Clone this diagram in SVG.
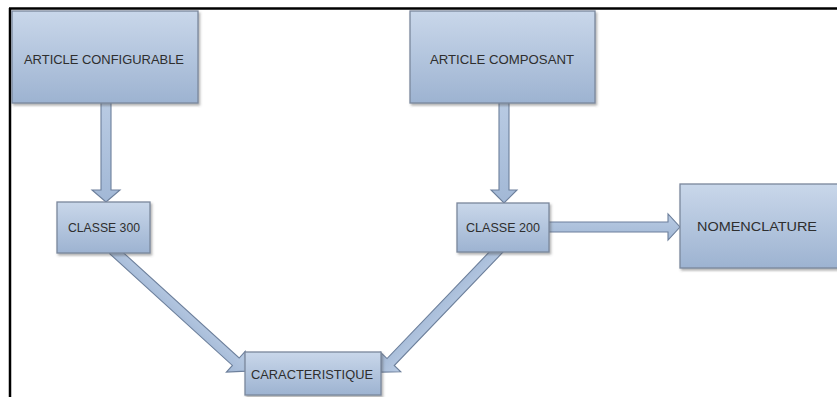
<svg xmlns="http://www.w3.org/2000/svg" width="837" height="397" viewBox="0 0 837 397">
<defs>
<linearGradient id="boxg" x1="0" y1="0" x2="0" y2="1">
<stop offset="0" stop-color="#c9d7ea"/>
<stop offset="1" stop-color="#9db3d1"/>
</linearGradient>
<linearGradient id="arrg" x1="0" y1="0" x2="0" y2="1">
<stop offset="0" stop-color="#b9cbe3"/>
<stop offset="1" stop-color="#a2b8d6"/>
</linearGradient>
<filter id="sh" x="-10%" y="-10%" width="130%" height="140%">
<feDropShadow dx="1.5" dy="2" stdDeviation="1.2" flood-color="#555" flood-opacity="0.45"/>
</filter>
<style>
.box{fill:url(#boxg);stroke:#7a879c;stroke-width:1.3;filter:url(#sh)}
.arr{fill:url(#arrg);stroke:#6c7f9b;stroke-width:1.1;stroke-linejoin:miter}
.lbl{font-family:"Liberation Sans",Arial,sans-serif;font-size:13px;fill:#2e2e2e;text-anchor:middle;dominant-baseline:central}
</style>
</defs>
<rect width="837" height="397" fill="#fff"/>
<g id="frame" stroke="#000" stroke-width="2.5" fill="none">
<line x1="9" y1="8.5" x2="837" y2="8.5"/>
<line x1="10" y1="8" x2="10" y2="397"/>
</g>
<g id="connectors">
<polygon class="arr" points="101,100 111,100 111,190 120,190 106,202 92,190 101,190"/>
<polygon class="arr" points="499,100 509,100 509,190 517,190 504,203 491,190 499,190"/>
<polygon class="arr" points="545,222 668,222 668,214 680,227 668,240 668,232 545,232"/>
<g transform="translate(113,250) rotate(42.3)"><polygon class="arr" points="0,-5 166,-5 166,-14 180,0 166,14 166,5 0,5"/></g>
<g transform="translate(500,248) rotate(133.8)"><polygon class="arr" points="0,-5 158,-5 158,-14 172,0 158,14 158,5 0,5"/></g>
</g>
<g id="n-article-configurable"><rect class="box" x="12" y="11" width="186" height="92"/><text class="lbl" x="104" y="59" textLength="160" lengthAdjust="spacingAndGlyphs">ARTICLE CONFIGURABLE</text></g>
<g id="n-article-composant"><rect class="box" x="410" y="11" width="185" height="92"/><text class="lbl" x="502" y="59" textLength="144" lengthAdjust="spacingAndGlyphs">ARTICLE COMPOSANT</text></g>
<g id="n-classe-300"><rect class="box" x="57" y="202" width="93" height="51"/><text class="lbl" x="104" y="227" textLength="72" lengthAdjust="spacingAndGlyphs">CLASSE 300</text></g>
<g id="n-classe-200"><rect class="box" x="457" y="203" width="92" height="49"/><text class="lbl" x="503" y="227" textLength="74" lengthAdjust="spacingAndGlyphs">CLASSE 200</text></g>
<g id="n-nomenclature"><rect class="box" x="680" y="184" width="160" height="84"/><text class="lbl" x="757" y="226" textLength="120" lengthAdjust="spacingAndGlyphs">NOMENCLATURE</text></g>
<g id="n-caracteristique"><rect class="box" x="245" y="352" width="136" height="43"/><text class="lbl" x="312" y="374" textLength="122" lengthAdjust="spacingAndGlyphs">CARACTERISTIQUE</text></g>
</svg>
